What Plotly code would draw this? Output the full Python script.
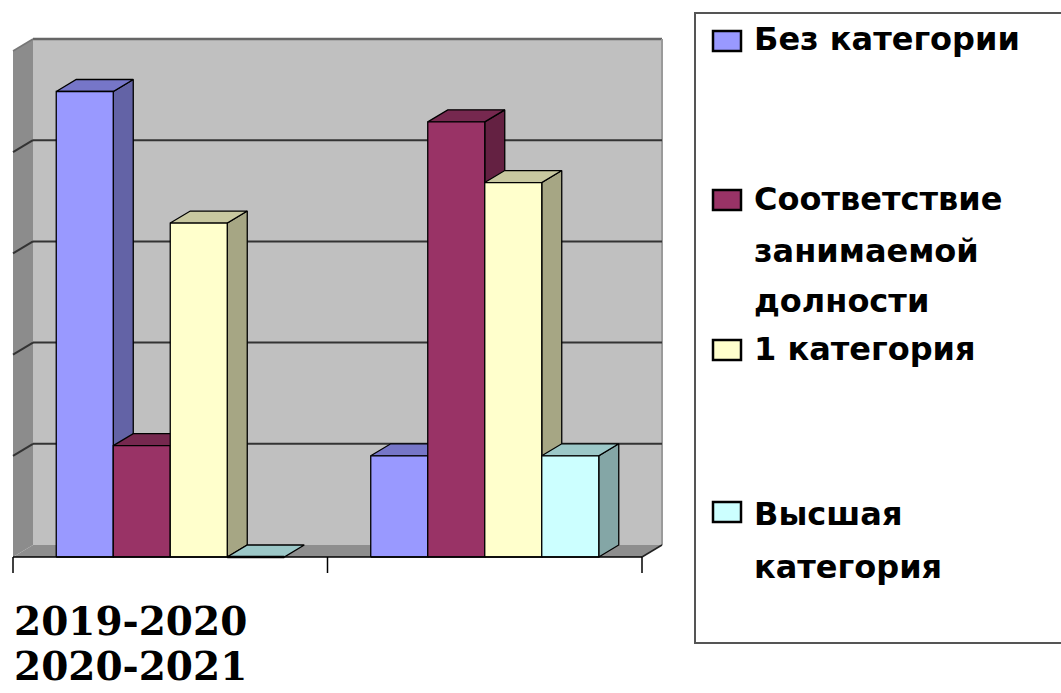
import plotly.graph_objects as go

# ---------------- data ----------------
categories = ["2019-2020", "2020-2021"]
series_lines = [["Без категории"],
                ["Соответствие", "занимаемой", "долности"],
                ["1 категория"],
                ["Высшая", "категория"]]
series_names = [" ".join(l) for l in series_lines]
bez_kategorii = [4.6, 1.0]
sootvetstvie = [1.1, 4.3]
pervaya = [3.3, 3.7]
vysshaya = [0.0, 1.0]
values = [bez_kategorii, sootvetstvie, pervaya, vysshaya]
grid_values = [1, 2, 3, 4]
y_top = 5

# ---------------- style ----------------
front_colors = ["#9999FF", "#993366", "#FFFFCC", "#CCFFFF"]
side_colors = ["#6363A6", "#642142", "#A6A684", "#84A6A6"]
top_colors = ["#7676C8", "#76284F", "#C8C8A0", "#9CC8C8"]
DX = 20 / 314.5   # depth offset (x units)
DY = 12 / 101.2   # depth offset (y units)
group_frac = 0.725
bar_w = group_frac / len(values)

fig = go.Figure()


def poly(xs, ys, fill, line_color=None, line_width=0, name=None):
    fig.add_trace(go.Scatter(
        x=list(xs) + [xs[0]], y=list(ys) + [ys[0]],
        mode="lines", fill="toself", fillcolor=fill,
        line=dict(color=line_color or fill, width=line_width),
        hoverinfo="skip", showlegend=False, name=name))


def seg(xs, ys, color, width):
    fig.add_trace(go.Scatter(x=xs, y=ys, mode="lines",
                             line=dict(color=color, width=width),
                             hoverinfo="skip", showlegend=False))


x_lo = -0.5
x_hi = len(categories) - 0.5

# back wall
poly([x_lo + DX, x_hi + DX, x_hi + DX, x_lo + DX],
     [DY, DY, y_top + DY, y_top + DY], "#C0C0C0")
seg([x_lo + DX, x_hi + DX], [y_top + DY, y_top + DY], "#666666", 2.5)
seg([x_hi + DX, x_hi + DX], [DY, y_top + DY], "#9A9A9A", 2)
# left wall
poly([x_lo, x_lo + DX, x_lo + DX, x_lo],
     [0, DY, y_top + DY, y_top], "#8C8C8C")
seg([x_lo, x_lo + DX], [y_top, y_top + DY], "#777777", 1.5)
# floor
poly([x_lo, x_hi, x_hi + DX, x_lo + DX], [0, 0, DY, DY], "#8E8E8E")
seg([x_hi, x_hi + DX], [0, DY], "#222222", 1.5)

# gridlines
for g in grid_values:
    seg([x_lo + DX, x_hi + DX], [g + DY, g + DY], "#333333", 2)
    seg([x_lo, x_lo + DX], [g, g + DY], "#333333", 2)

# bars (3D faces)
for c in range(len(categories)):
    for s, vals in enumerate(values):
        h = vals[c]
        x0 = c - group_frac / 2 + s * bar_w
        x1 = x0 + bar_w
        # side face
        if h > 0:
            poly([x1, x1 + DX, x1 + DX, x1], [0, DY, h + DY, h],
                 side_colors[s], "#000000", 1.3)
        # top face
        poly([x0, x1, x1 + DX, x0 + DX], [h, h, h + DY, h + DY],
             top_colors[s], "#000000", 1.3)
        # front face
        if h > 0:
            poly([x0, x1, x1, x0], [0, 0, h, h], front_colors[s],
                 "#000000", 1.3, name=series_names[s])
        else:
            seg([x0, x1], [0, 0], "#000000", 2.5)

# category axis line and ticks
seg([x_lo, x_hi], [0, 0], "#000000", 1.5)
tick_len = 16 / 101.2
for c in range(len(categories) + 1):
    xb = c - 0.5
    seg([xb, xb], [0, -tick_len], "#000000", 1.5)

# category labels (below)
label_y = [(557 - 621) / 101.2, (557 - 666) / 101.2]
annotations = []
for c, lab in enumerate(categories):
    annotations.append(dict(
        x=x_lo - 1 / 314.5, y=label_y[c], xref="x", yref="y",
        text=lab, showarrow=False, xanchor="left", yanchor="middle",
        font=dict(family="DejaVu Serif", size=39, color="#000000",
                  weight="bold")))

# legend (drawn box, swatches and texts)
W, H = 1061, 693


def px(xp):
    return xp / W


def py(yp):
    return 1 - yp / H


shapes = [dict(type="rect", xref="paper", yref="paper",
               x0=px(695), x1=px(1062), y0=py(643), y1=py(13),
               line=dict(color="#555555", width=2), fillcolor="rgba(0,0,0,0)")]
swatch_centers = [41, 200, 350, 512]
line_centers = [[39], [199, 251, 301], [349], [514, 567]]
for s in range(len(series_names)):
    yc = swatch_centers[s]
    shapes.append(dict(type="rect", xref="paper", yref="paper",
                       x0=px(713), x1=px(741), y0=py(yc + 10), y1=py(yc - 10),
                       line=dict(color="#000000", width=2.5),
                       fillcolor=front_colors[s]))
    for txt, yl in zip(series_lines[s], line_centers[s]):
        annotations.append(dict(
            x=px(752), y=py(yl), xref="paper", yref="paper", text=txt,
            showarrow=False, xanchor="left", yanchor="middle",
            font=dict(family="DejaVu Sans", size=32, color="#000000",
                      weight="bold")))

fig.update_layout(
    width=W, height=H,
    margin=dict(l=0, r=0, t=0, b=0),
    paper_bgcolor="#FFFFFF", plot_bgcolor="#FFFFFF",
    showlegend=False,
    xaxis=dict(range=[-0.5 - 13 / 314.5, -0.5 + (W - 13) / 314.5],
               domain=[0, 1], visible=False, fixedrange=True),
    yaxis=dict(range=[-136 / 101.2, 557 / 101.2], domain=[0, 1],
               visible=False, fixedrange=True),
    shapes=shapes, annotations=annotations,
)

fig.write_html("out.html", config={"displayModeBar": False},
               post_script="document.body.style.margin='0px';"
                           "document.body.style.overflow='hidden';")
